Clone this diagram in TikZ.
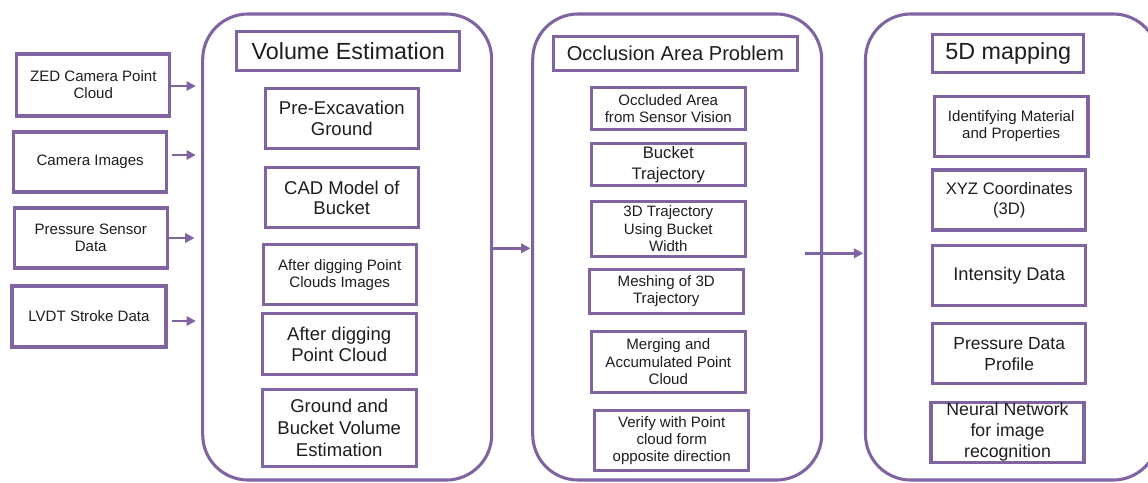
\documentclass[tikz,border=0pt]{standalone}
\usepackage{fontspec}
\setmainfont{Liberation Sans}
\usetikzlibrary{arrows.meta,calc}
\definecolor{purp}{HTML}{8064A2}
\definecolor{txt}{HTML}{1E1E1E}
\tikzset{
  sz/.style 2 args={minimum width=#1*0.75pt, minimum height=#2*0.75pt},
  box/.style={draw=purp, line width=2.3pt, rectangle, inner sep=0pt, align=center, text=txt},
  cont/.style={draw=purp, line width=2.3pt, rectangle, rounded corners=34pt, inner sep=0pt},
  arr/.style={draw=purp, line width=1.8pt, -{Triangle[length=7pt,width=7pt]}},
  fa/.style={font=\fontsize{11.3}{12.9}\selectfont},
  fb/.style={font=\fontsize{13.9}{15.3}\selectfont},
  fbb/.style={font=\fontsize{13.9}{16.3}\selectfont},
  fc/.style={font=\fontsize{12.5}{15.2}\selectfont},
  fd/.style={font=\fontsize{13.3}{15.8}\selectfont},
  ftitle/.style={font=\fontsize{17.5}{20}\selectfont},
  ftitleb/.style={font=\fontsize{15.1}{18}\selectfont},
}
\begin{document}
\begin{tikzpicture}[x=0.75pt,y=-0.75pt]
\useasboundingbox (0,0) rectangle (1148,482);
\clip (0,0) rectangle (1148,482);
\fill[white] (0,0) rectangle (1148,482);
% left input boxes
\node[box,fa,sz={153}{62}] (zed) at (93.3,85) {ZED Camera Point\\Cloud};
\node[box,fa,sz={153}{60}] (cam) at (90.2,162) {Camera Images};
\node[box,fa,sz={153}{60}] (pres) at (90.7,238) {Pressure Sensor\\Data};
\node[box,fa,sz={154}{61}] (lvdt) at (89,316.5) {LVDT Stroke Data};
% containers
\node[cont,sz={289}{466}] (c1) at (347.2,247) {};
\node[cont,sz={289}{466}] (c2) at (677.2,247) {};
\node[cont,sz={293}{466}] (c3) at (1012,247) {};
% container 1
\node[box,ftitle,sz={223}{39}] (ve) at (348.2,51.2) {Volume Estimation};
\node[box,fb,sz={153}{60}] (pre) at (341.8,118.3) {Pre-Excavation\\Ground};
\node[box,fb,sz={153}{60}] (cad) at (341.8,197.7) {CAD Model of\\Bucket};
\node[box,fa,sz={153}{60.5}] (adpci) at (339.7,274.7) {After digging Point\\Clouds Images};
\node[box,fb,sz={154}{61}] (adpc) at (339.2,344.3) {After digging\\Point Cloud};
\node[box,fbb,sz={154}{77}] (gbve) at (339.2,428) {Ground and\\Bucket Volume\\Estimation};
% container 2
\node[box,ftitleb,sz={244}{34}] (oap) at (675.3,53.7) {Occlusion Area Problem};
\node[box,fa,sz={154.5}{42}] (oasv) at (668.3,108.8) {Occluded Area\\from Sensor Vision};
\node[box,fc,sz={154.5}{42}] (bt) at (668.3,164.7) {Bucket\\Trajectory};
\node[box,fa,sz={154.5}{55}] (tdt) at (668.3,228.7) {3D Trajectory\\Using Bucket\\Width};
\node[box,fa,sz={154}{44}] (mesh) at (666.3,291.3) {Meshing of 3D\\Trajectory};
\node[box,fa,sz={154.5}{61}] (merge) at (668.3,361.7) {Merging and\\Accumulated Point\\Cloud};
\node[box,fa,sz={154.5}{60.5}] (verify) at (671.7,440.3) {Verify with Point\\cloud form\\opposite direction};
% container 3
\node[box,ftitle,sz={151}{38}] (fd) at (1008.3,53.3) {5D mapping};
\node[box,fa,sz={153.5}{60}] (imp) at (1011.2,126.2) {Identifying Material\\and Properties};
\node[box,fc,sz={153}{60}] (xyz) at (1009.2,200) {XYZ Coordinates\\(3D)};
\node[box,font=\fontsize{13.7}{16}\selectfont,sz={153}{60}] (int) at (1009.2,275.5) {Intensity Data};
\node[box,font=\fontsize{13.1}{15.8}\selectfont,sz={153}{60.5}] (pdp) at (1009.2,353.7) {Pressure Data\\Profile};
\node[box,fd,sz={153}{60}] (nn) at (1007.5,432.2) {Neural Network\\for image\\recognition};
% input arrows
\draw[arr, shorten >=4pt] (zed.east |- 0,86) -- (c1.west |- 0,86);
\draw[arr, shorten >=4pt, shorten <=3pt] (cam.east |- 0,155) -- (c1.west |- 0,155);
\draw[arr, shorten >=5pt] (pres.east |- 0,238) -- (c1.west |- 0,238);
\draw[arr, shorten >=4pt, shorten <=3.5pt] (lvdt.east |- 0,321) -- (c1.west |- 0,321);
% between containers
\draw[arr, shorten >=0.5pt] (c1.east |- 0,248.3) -- (c2.west |- 0,248.3);
\coordinate (s2) at ($(c2.east |- 0,253.3)+(-18.7,0)$);
\draw[arr, shorten >=0.5pt] (s2) -- (c3.west |- 0,253.3);
\end{tikzpicture}
\end{document}
